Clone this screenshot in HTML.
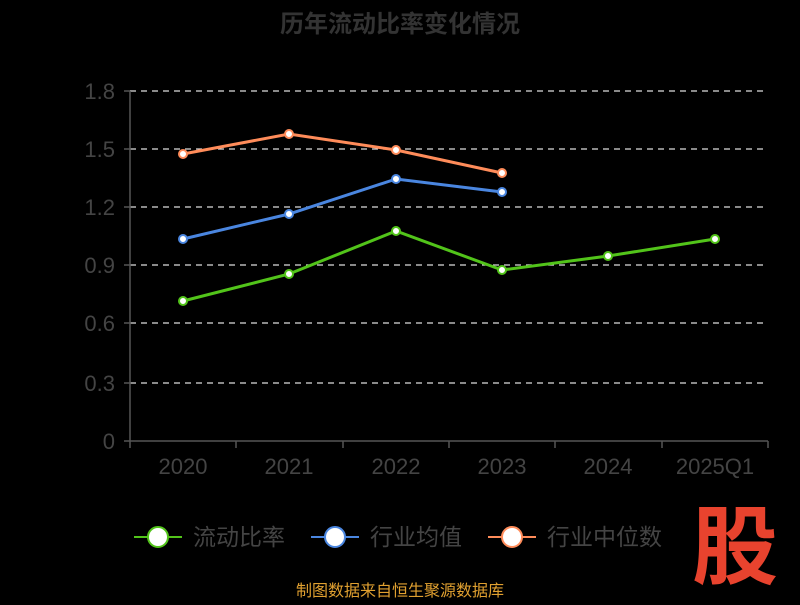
<!DOCTYPE html>
<html><head><meta charset="utf-8"><style>
body{margin:0;background:#000;width:800px;height:600px;overflow:hidden}
text{font-family:"Liberation Sans","Noto Sans CJK SC",sans-serif}
</style></head><body>
<svg width="800" height="600" xmlns="http://www.w3.org/2000/svg">
<rect width="800" height="600" fill="#000"/>
<text x="400" y="32" text-anchor="middle" font-size="24" font-weight="bold" fill="#333">历年流动比率变化情况</text>
<g stroke="#ddd" stroke-dasharray="6,5" stroke-width="1.3">
<line x1="130" y1="91" x2="768" y2="91"/><line x1="130" y1="149" x2="768" y2="149"/>
<line x1="130" y1="207" x2="768" y2="207"/><line x1="130" y1="265" x2="768" y2="265"/>
<line x1="130" y1="323" x2="768" y2="323"/><line x1="130" y1="383" x2="768" y2="383"/>
</g>
<g stroke="#555" stroke-width="1.5">
<line x1="130" y1="91" x2="130" y2="441"/><line x1="130" y1="441" x2="768" y2="441"/>
<line x1="124" y1="91" x2="130" y2="91"/><line x1="124" y1="149" x2="130" y2="149"/><line x1="124" y1="207" x2="130" y2="207"/><line x1="124" y1="265" x2="130" y2="265"/><line x1="124" y1="323" x2="130" y2="323"/><line x1="124" y1="383" x2="130" y2="383"/><line x1="124" y1="441" x2="130" y2="441"/>
<line x1="130" y1="441" x2="130" y2="448"/><line x1="236" y1="441" x2="236" y2="448"/><line x1="343" y1="441" x2="343" y2="448"/><line x1="449" y1="441" x2="449" y2="448"/><line x1="555" y1="441" x2="555" y2="448"/><line x1="662" y1="441" x2="662" y2="448"/><line x1="768" y1="441" x2="768" y2="448"/>
</g>
<g fill="#444" font-size="22" text-anchor="end">
<text x="115" y="99">1.8</text><text x="115" y="157">1.5</text><text x="115" y="215">1.2</text><text x="115" y="273">0.9</text><text x="115" y="331">0.6</text><text x="115" y="391">0.3</text><text x="115" y="449">0</text>
</g>
<g fill="#444" font-size="22" text-anchor="middle">
<text x="183" y="474">2020</text><text x="289" y="474">2021</text><text x="396" y="474">2022</text><text x="502" y="474">2023</text><text x="608" y="474">2024</text><text x="715" y="474">2025Q1</text>
</g>
<g fill="none" stroke-width="3">
<polyline stroke="#ff8c5a" points="183,154 289,134 396,150 502,173"/>
<polyline stroke="#4a86e0" points="183,239 289,214 396,179 502,192"/>
<polyline stroke="#52c41a" points="183,301 289,274 396,231 502,270 608,256 715,239"/>
</g>
<g fill="#fff" stroke-width="2">
<g stroke="#ff8c5a"><circle cx="183" cy="154" r="4"/><circle cx="289" cy="134" r="4"/><circle cx="396" cy="150" r="4"/><circle cx="502" cy="173" r="4"/></g>
<g stroke="#4a86e0"><circle cx="183" cy="239" r="4"/><circle cx="289" cy="214" r="4"/><circle cx="396" cy="179" r="4"/><circle cx="502" cy="192" r="4"/></g>
<g stroke="#52c41a"><circle cx="183" cy="301" r="4"/><circle cx="289" cy="274" r="4"/><circle cx="396" cy="231" r="4"/><circle cx="502" cy="270" r="4"/><circle cx="608" cy="256" r="4"/><circle cx="715" cy="239" r="4"/></g>
</g>
<g font-size="23" fill="#444">
<line x1="134" y1="537" x2="182" y2="537" stroke="#52c41a" stroke-width="2"/><circle cx="158" cy="537" r="10" fill="#fff" stroke="#52c41a" stroke-width="2"/><text x="193" y="545">流动比率</text>
<line x1="311" y1="537" x2="359" y2="537" stroke="#4a86e0" stroke-width="2"/><circle cx="335" cy="537" r="10" fill="#fff" stroke="#4a86e0" stroke-width="2"/><text x="370" y="545">行业均值</text>
<line x1="488" y1="537" x2="536" y2="537" stroke="#ff8c5a" stroke-width="2"/><circle cx="512" cy="537" r="10" fill="#fff" stroke="#ff8c5a" stroke-width="2"/><text x="547" y="545">行业中位数</text>
</g>
<text x="735" y="577" text-anchor="middle" font-size="86" font-weight="bold" fill="#e8432e">股</text>
<text x="400" y="596" text-anchor="middle" font-size="16" fill="#e0a030">制图数据来自恒生聚源数据库</text>
</svg>
</body></html>
